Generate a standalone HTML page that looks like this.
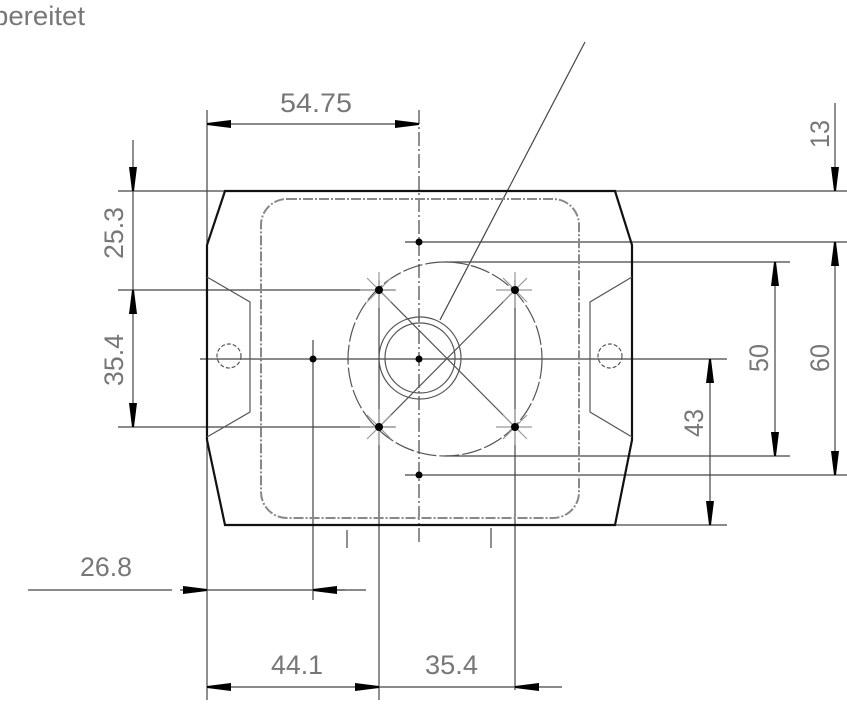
<!DOCTYPE html>
<html><head><meta charset="utf-8"><style>
html,body{margin:0;padding:0;background:#fff;width:847px;height:715px;overflow:hidden}
svg{display:block}
text{font-family:"Liberation Sans",sans-serif;fill:#777;font-size:27px}
</style></head><body>
<svg width="847" height="715" viewBox="0 0 847 715" xmlns="http://www.w3.org/2000/svg">
<defs>
<marker id="a" viewBox="0 0 24 9" refX="24" refY="4.5" markerWidth="24" markerHeight="9" markerUnits="userSpaceOnUse" orient="auto"><path d="M0,0.5L24,3.5L24,5.5L0,8.5z" fill="#000"/></marker>
</defs>
<text x="-7" y="25" font-size="22" textLength="92" lengthAdjust="spacingAndGlyphs">bereitet</text>
<g stroke="#444" stroke-width="1.2" fill="none">
<line x1="207" y1="110" x2="207" y2="700"/>
<line x1="118" y1="191" x2="847" y2="191"/>
<line x1="118" y1="290" x2="395" y2="290"/>
<line x1="118" y1="427" x2="395" y2="427"/>
<line x1="405" y1="242" x2="847" y2="242"/>
<line x1="445" y1="262" x2="790" y2="262"/>
<line x1="445" y1="456" x2="790" y2="456"/>
<line x1="405" y1="475" x2="847" y2="475"/>
<line x1="615" y1="525" x2="727" y2="525"/>
<line x1="200" y1="359" x2="727" y2="359"/>
<line x1="379" y1="280" x2="379" y2="700"/>
<line x1="515" y1="280" x2="515" y2="690"/>
<line x1="313" y1="340" x2="313" y2="600"/>
<line x1="419" y1="110" x2="419" y2="545" stroke-dasharray="14,3,2,3"/>
<line x1="347" y1="530" x2="347" y2="548"/>
<line x1="491" y1="528" x2="491" y2="548"/>
<line x1="585" y1="42" x2="440" y2="320"/>
<line x1="245" y1="124" x2="207" y2="124" marker-end="url(#a)"/>
<line x1="245" y1="124" x2="380" y2="124"/>
<line x1="380" y1="124" x2="419" y2="124" marker-end="url(#a)"/>
<line x1="133" y1="140" x2="133" y2="191" marker-end="url(#a)"/>
<line x1="133" y1="191" x2="133" y2="300"/>
<line x1="133" y1="330" x2="133" y2="290" marker-end="url(#a)"/>
<line x1="133" y1="330" x2="133" y2="427" marker-end="url(#a)"/>
<line x1="835" y1="103" x2="835" y2="191" marker-end="url(#a)"/>
<line x1="835" y1="280" x2="835" y2="242" marker-end="url(#a)"/>
<line x1="835" y1="280" x2="835" y2="475" marker-end="url(#a)"/>
<line x1="775" y1="360" x2="775" y2="262" marker-end="url(#a)"/>
<line x1="775" y1="360" x2="775" y2="456" marker-end="url(#a)"/>
<line x1="710" y1="440" x2="710" y2="359" marker-end="url(#a)"/>
<line x1="710" y1="440" x2="710" y2="525" marker-end="url(#a)"/>
<line x1="28" y1="590" x2="172" y2="590"/>
<line x1="180" y1="590" x2="207" y2="590" marker-end="url(#a)"/>
<line x1="207" y1="590" x2="366" y2="590"/>
<line x1="345" y1="590" x2="313" y2="590" marker-end="url(#a)"/>
<line x1="290" y1="687" x2="207" y2="687" marker-end="url(#a)"/>
<line x1="290" y1="687" x2="379" y2="687" marker-end="url(#a)"/>
<line x1="379" y1="687" x2="515" y2="687"/>
<line x1="562" y1="687" x2="515" y2="687" marker-end="url(#a)"/>
</g>
<path d="M225,191 L615,191 L632,245 L632,440 L615,525 L225,525 L207,440 L207,245 Z" fill="none" stroke="#111" stroke-width="2.2"/>
<rect x="261" y="199" width="318" height="319" rx="26" fill="none" stroke="#888" stroke-width="2" stroke-dasharray="10,2,2,2"/>
<g fill="none" stroke="#555" stroke-width="1.2">
<path d="M207,277 L250,302 L250,412 L207,437"/>
<path d="M632,277 L590,302 L590,412 L632,437"/>
<circle cx="229" cy="356" r="12" stroke-dasharray="4,2"/>
<circle cx="610" cy="356" r="12" stroke-dasharray="4,2"/>
<circle cx="445" cy="359" r="97" stroke-dasharray="20,3"/>
<circle cx="420" cy="358" r="41"/>
<circle cx="420" cy="358" r="35"/>
<line x1="379" y1="290" x2="515" y2="427"/>
<line x1="515" y1="290" x2="379" y2="427"/>
<g stroke="#999">
<path d="M367,278l24,24M391,278l-24,24M360,290h36M379,272v36"/>
<path d="M503,278l24,24M527,278l-24,24M496,290h36M515,272v36"/>
<path d="M367,415l24,24M391,415l-24,24M360,427h36M379,409v36"/>
<path d="M503,415l24,24M527,415l-24,24M496,427h36M515,409v36"/>
</g>
</g>
<g fill="#000">
<circle cx="379" cy="290" r="4"/><circle cx="515" cy="290" r="4"/>
<circle cx="379" cy="427" r="4"/><circle cx="515" cy="427" r="4"/>
<circle cx="419" cy="242" r="3.5"/><circle cx="419" cy="475" r="3.5"/>
<circle cx="313" cy="359" r="3.5"/><circle cx="419" cy="359" r="3.5"/>
</g>
<text x="280" y="112" textLength="72" lengthAdjust="spacingAndGlyphs">54.75</text>
<text x="80" y="576" textLength="52" lengthAdjust="spacingAndGlyphs">26.8</text>
<text x="271" y="674" textLength="52" lengthAdjust="spacingAndGlyphs">44.1</text>
<text x="425" y="674" textLength="53" lengthAdjust="spacingAndGlyphs">35.4</text>
<text transform="translate(123,259) rotate(-90)" textLength="52" lengthAdjust="spacingAndGlyphs">25.3</text>
<text transform="translate(123,386) rotate(-90)" textLength="52" lengthAdjust="spacingAndGlyphs">35.4</text>
<text transform="translate(829,148) rotate(-90)" textLength="28" lengthAdjust="spacingAndGlyphs">13</text>
<text transform="translate(829,372) rotate(-90)" textLength="28" lengthAdjust="spacingAndGlyphs">60</text>
<text transform="translate(768,372) rotate(-90)" textLength="28" lengthAdjust="spacingAndGlyphs">50</text>
<text transform="translate(703,437) rotate(-90)" textLength="28" lengthAdjust="spacingAndGlyphs">43</text>
</svg>
</body></html>
